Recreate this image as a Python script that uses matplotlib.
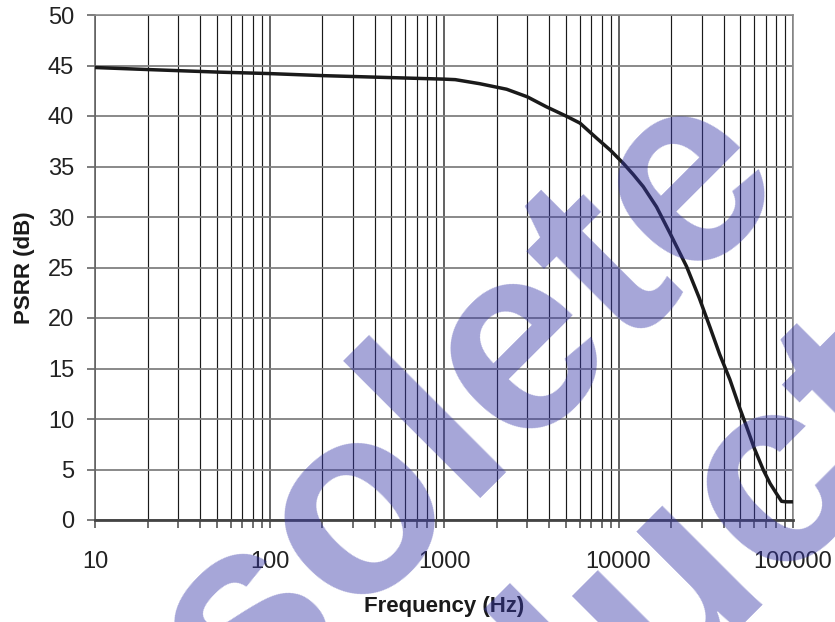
import matplotlib
matplotlib.use("Agg")
import matplotlib.pyplot as plt
from matplotlib.ticker import LogLocator, FixedLocator, NullFormatter
from matplotlib.transforms import IdentityTransform

plt.rcParams['font.family'] = ['Liberation Sans', 'DejaVu Sans']

freq = [10, 20, 50, 100, 200, 500, 1000, 1160, 1600, 2285, 3000, 3873, 5000,
        6010, 7500, 9000, 10670, 12160, 13870, 16520, 19720, 24550, 29000,
        33420, 38000, 43500, 49000, 54300, 60000, 67600, 74000, 80500, 86000,
        92000, 98100]
psrr = [44.8, 44.6, 44.35, 44.2, 44.0, 43.8, 43.65, 43.6, 43.2, 42.65, 41.9,
        40.9, 40.0, 39.3, 37.8, 36.6, 35.3, 34.2, 33.0, 31.0, 28.4, 25.1, 22.0,
        19.1, 16.4, 13.9, 11.3, 9.2, 7.1, 4.95, 3.6, 2.6, 1.85, 1.8, 1.8]

x_ticks = [10, 100, 1000, 10000, 100000]
x_tick_labels = ['10', '100', '1000', '10000', '100000']
y_ticks = [0, 5, 10, 15, 20, 25, 30, 35, 40, 45, 50]
watermark_lines = ['Obsolete', 'Product']

fig = plt.figure(figsize=(8.35, 6.22), dpi=100)
ax = fig.add_axes([95/835, 102/622, 698/835, 505/622])

ax.set_xscale('log')
ax.set_xlim(10, 100000)
ax.set_ylim(0, 50)

ax.plot(freq, psrr, color='#1a1a1a', lw=2.5, zorder=5, solid_joinstyle='round')

ax.xaxis.set_major_locator(FixedLocator(x_ticks))
ax.set_xticklabels(x_tick_labels)
ax.xaxis.set_minor_locator(LogLocator(base=10, subs=range(2, 10)))
ax.xaxis.set_minor_formatter(NullFormatter())
ax.set_yticks(y_ticks)

ax.grid(True, which='major', axis='y', color='#808080', lw=1.3, zorder=1)
ax.grid(True, which='major', axis='x', color='#555555', lw=1.3, zorder=1)
ax.grid(True, which='minor', axis='x', color='#1a1a1a', lw=0.85, zorder=1)

for s in ['top', 'right']:
    ax.spines[s].set_color('#8c8c8c')
    ax.spines[s].set_linewidth(1.2)
ax.spines['left'].set_color('#666666')
ax.spines['left'].set_linewidth(1.2)
ax.spines['bottom'].set_color('#444444')
ax.spines['bottom'].set_linewidth(2.0)

ax.tick_params(axis='y', which='major', length=6, width=1.2, color='#666666',
               pad=9, labelsize=17, labelcolor='#222222')
ax.tick_params(axis='x', which='both', length=6, width=1.2, color='#555555',
               pad=16, labelsize=17, labelcolor='#222222')

ax.set_xlabel('Frequency (Hz)', fontsize=16, fontweight='bold', color='#1a1a1a',
              labelpad=17)
ax.set_ylabel('PSRR (dB)', fontsize=16, fontweight='bold', color='#1a1a1a',
              labelpad=9)

# watermark
wm_color = '#3838A8'
fig.text(386, 40, watermark_lines[0], transform=IdentityTransform(),
         fontsize=192, fontweight='bold', color=wm_color, alpha=0.45,
         rotation=45, rotation_mode='anchor', ha='center', va='baseline',
         zorder=20)
fig.text(582, -146, watermark_lines[1], transform=IdentityTransform(),
         fontsize=192, fontweight='bold', color=wm_color, alpha=0.45,
         rotation=45, rotation_mode='anchor', ha='center', va='baseline',
         zorder=20)

fig.savefig('out.png', dpi=100)
